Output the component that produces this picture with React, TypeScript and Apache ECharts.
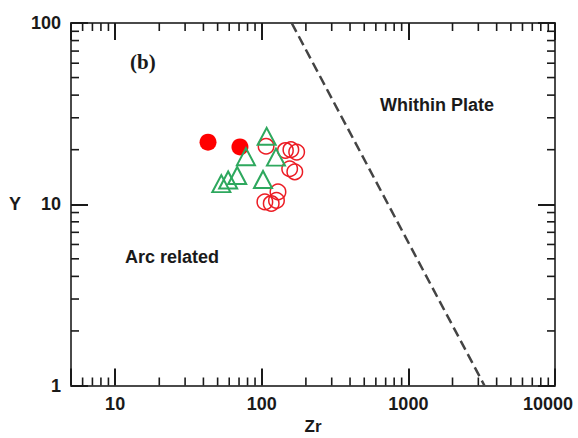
import React, { useEffect, useRef } from "react";
import * as echarts from "echarts";

// Data (Zr, Y)
const filledCircleZr = [43, 71];
const filledCircleY = [22.0, 20.7];

const openCircleZr = [107, 145, 158, 173, 155, 168, 105, 116, 126, 129];
const openCircleY = [20.9, 19.8, 20.0, 19.4, 15.7, 15.1, 10.3, 10.1, 10.5, 11.7];

const triangleZr = [108, 125, 102, 78, 68, 59, 53];
const triangleY = [23.7, 18.2, 13.7, 18.3, 14.4, 13.6, 13.0];

// Discrimination boundary (Zr, Y)
const boundaryZr = [160, 3300];
const boundaryY = [100, 1];

// Axis ranges / ticks
const xMin = 5;
const xMax = 10000;
const yMin = 1;
const yMax = 100;
const minorXTicks = [6, 7, 8, 9, 20, 30, 40, 50, 60, 70, 80, 90, 200, 300, 400, 500, 600, 700, 800, 900, 2000, 3000, 4000, 5000, 6000, 7000, 8000, 9000];
const minorYTicks = [2, 3, 4, 5, 6, 7, 8, 9, 20, 30, 40, 50, 60, 70, 80, 90];

const FONT = "'Liberation Sans', Arial, sans-serif";
const AXIS_COLOR = "#4a4a4a";
const TICK_COLOR = "#1a1a1a";

const isDecade = (v: number) => {
  const l = Math.log10(v);
  return Math.abs(l - Math.round(l)) < 1e-6;
};

export default function App() {
  const ref = useRef<HTMLDivElement>(null);

  useEffect(() => {
    if (!ref.current) return;
    const chart = echarts.init(ref.current, undefined, { renderer: "svg" });

    const labelStyle = {
      fontFamily: FONT,
      fontWeight: "bold" as const,
      fontSize: 18,
      color: "#1a1a1a",
    };

    const baseX = {
      type: "log" as const,
      logBase: 10,
      min: xMin,
      max: xMax,
      splitLine: { show: false },
      axisLine: { show: true, onZero: false, lineStyle: { color: AXIS_COLOR, width: 2 } },
      axisTick: { show: true, inside: true, length: 17, lineStyle: { color: TICK_COLOR, width: 2 } },
    };
    const baseY = {
      type: "log" as const,
      logBase: 10,
      min: yMin,
      max: yMax,
      splitLine: { show: false },
      axisLine: { show: true, onZero: false, lineStyle: { color: AXIS_COLOR, width: 2 } },
      axisTick: { show: true, inside: true, length: 17, lineStyle: { color: TICK_COLOR, width: 2 } },
    };

    const minorLine = (x1: number, y1: number, x2: number, y2: number) => ({
      type: "line",
      shape: { x1, y1, x2, y2 },
      style: { stroke: TICK_COLOR, lineWidth: 1.6 },
    });

    chart.setOption({
      animation: false,
      backgroundColor: "#ffffff",
      grid: { left: 71, top: 23, right: 23, bottom: 52.5, containLabel: false, outerBoundsMode: "none" },
      xAxis: [
        {
          ...baseX,
          position: "bottom",
          name: "Zr",
          nameLocation: "middle",
          nameGap: 32,
          nameTextStyle: { ...labelStyle, fontSize: 17 },
          axisLabel: {
            ...labelStyle,
            margin: 9,
            formatter: (v: number) => {
              if (!isDecade(v)) return "";
              const s = String(Math.round(v));
              return s === "10000" ? "{r|" + s + "}" : s;
            },
            rich: { r: { ...labelStyle, padding: [0, 14, 0, 0] } },
          },
        },
        {
          ...baseX,
          position: "top",
          axisLabel: { show: false },
        },
      ],
      yAxis: [
        {
          ...baseY,
          position: "left",
          name: "Y",
          nameLocation: "middle",
          nameRotate: 0,
          nameGap: 50,
          nameTextStyle: { ...labelStyle },
          axisLabel: {
            ...labelStyle,
            margin: 10,
            formatter: (v: number) => (isDecade(v) ? String(Math.round(v)) : ""),
          },
        },
        {
          ...baseY,
          position: "right",
          axisLabel: { show: false },
        },
      ],
      series: [
        {
          type: "custom",
          silent: true,
          z: 1,
          data: minorXTicks.map((v) => [v, 10]),
          renderItem: (_params: any, api: any) => {
            const v = api.value(0);
            const pb = api.coord([v, yMin]);
            const pt = api.coord([v, yMax]);
            return {
              type: "group",
              children: [minorLine(pb[0], pb[1], pb[0], pb[1] - 8), minorLine(pt[0], pt[1], pt[0], pt[1] + 8)],
            };
          },
        },
        {
          type: "custom",
          silent: true,
          z: 1,
          data: minorYTicks.map((v) => [100, v]),
          renderItem: (_params: any, api: any) => {
            const v = api.value(1);
            const pl = api.coord([xMin, v]);
            const pr = api.coord([xMax, v]);
            return {
              type: "group",
              children: [minorLine(pl[0], pl[1], pl[0] + 8, pl[1]), minorLine(pr[0], pr[1], pr[0] - 8, pr[1])],
            };
          },
        },
        {
          type: "line",
          data: boundaryZr.map((x, i) => [x, boundaryY[i]]),
          showSymbol: false,
          symbol: "none",
          silent: true,
          lineStyle: { color: "#444444", width: 2.5, type: [10, 5] },
          z: 2,
        },
        {
          type: "scatter",
          data: filledCircleZr.map((x, i) => [x, filledCircleY[i]]),
          symbol: "circle",
          symbolSize: 17,
          itemStyle: { color: "#ff0000", opacity: 1 },
          z: 3,
        },
        {
          type: "scatter",
          data: openCircleZr.map((x, i) => [x, openCircleY[i]]),
          symbol: "circle",
          symbolSize: 15.5,
          itemStyle: { color: "rgba(0,0,0,0)", borderColor: "#ec1c24", borderWidth: 1.5, opacity: 1 },
          z: 4,
        },
        {
          type: "scatter",
          data: triangleZr.map((x, i) => [x, triangleY[i]]),
          symbol: "triangle",
          symbolSize: [18, 17],
          itemStyle: { color: "rgba(0,0,0,0)", borderColor: "#2ea85e", borderWidth: 2, opacity: 1 },
          z: 5,
        },
      ],
      graphic: [
        {
          type: "text",
          left: 130,
          top: 51,
          style: {
            text: "(b)",
            font: "bold 21px 'Liberation Serif', 'Times New Roman', serif",
            fill: "#1a1a1a",
          },
        },
        {
          type: "text",
          left: 380,
          top: 96,
          style: {
            text: "Whithin Plate",
            font: "bold 18px 'Liberation Sans', Arial, sans-serif",
            fill: "#1a1a1a",
          },
        },
        {
          type: "text",
          left: 125,
          top: 248,
          style: {
            text: "Arc related",
            font: "bold 18px 'Liberation Sans', Arial, sans-serif",
            fill: "#1a1a1a",
          },
        },
      ],
    });

    return () => chart.dispose();
  }, []);

  return (
    <div
      ref={ref}
      style={{ position: "fixed", left: 0, top: 0, width: 578, height: 438, background: "#fff" }}
    />
  );
}
